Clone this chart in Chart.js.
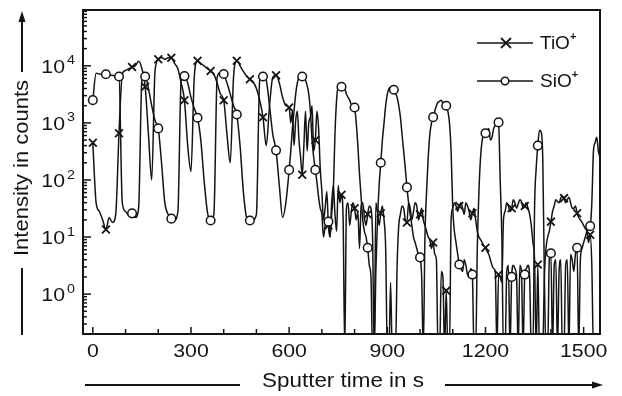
<!DOCTYPE html>
<html>
<head>
<meta charset="utf-8">
<script src="https://cdn.jsdelivr.net/npm/chart.js@4.4.1/dist/chart.umd.min.js"></script>
<style>
  html, body { margin: 0; padding: 0; background: #fff; }
  #wrap { width: 622px; height: 396px; }
</style>
</head>
<body>
<div id="wrap"><canvas id="chart" width="622" height="396"></canvas></div>
<script>
// sputter time (s): every 10 s up to 590 s, every 5 s after that (noisier part)
const times = [
  0, 10, 20, 30, 40, 50, 60, 70, 80, 90, 100, 110, 120, 130, 140, 150,
  160, 170, 180, 190, 200, 210, 220, 230, 240, 250, 260, 270, 280, 290, 300, 310,
  320, 330, 340, 350, 360, 370, 380, 390, 400, 410, 420, 430, 440, 450, 460, 470,
  480, 490, 500, 510, 520, 530, 540, 550, 560, 570, 580, 590,
  600, 605, 610, 615, 620, 625, 630, 635, 640, 645, 650, 655, 660, 665, 670, 675, 680, 685, 690, 695,
  700, 705, 710, 715, 720, 725, 730, 735, 740, 745, 750, 755, 760, 765, 770, 775, 780, 785, 790, 795,
  800, 805, 810, 815, 820, 825, 830, 835, 840, 845, 850, 855, 860, 865, 870, 875, 880, 885, 890, 895,
  900, 905, 910, 915, 920, 925, 930, 935, 940, 945, 950, 955, 960, 965, 970, 975, 980, 985, 990, 995,
  1000, 1005, 1010, 1015, 1020, 1025, 1030, 1035, 1040, 1045, 1050, 1055, 1060, 1065, 1070, 1075, 1080, 1085, 1090, 1095,
  1100, 1105, 1110, 1115, 1120, 1125, 1130, 1135, 1140, 1145, 1150, 1155, 1160, 1165, 1170, 1175, 1180, 1185, 1190, 1195,
  1200, 1205, 1210, 1215, 1220, 1225, 1230, 1235, 1240, 1245, 1250, 1255, 1260, 1265, 1270, 1275, 1280, 1285, 1290, 1295,
  1300, 1305, 1310, 1315, 1320, 1325, 1330, 1335, 1340, 1345, 1350, 1355, 1360, 1365, 1370, 1375, 1380, 1385, 1390, 1395,
  1400, 1405, 1410, 1415, 1420, 1425, 1430, 1435, 1440, 1445, 1450, 1455, 1460, 1465, 1470, 1475, 1480, 1485, 1490, 1495,
  1500, 1505, 1510, 1515, 1520, 1525, 1530, 1535, 1540, 1545, 1550
];

// TiO+ intensity (counts)
const tioCounts = [
  450, 40, 28, 20, 13.5, 22, 18, 25, 660, 7100, 8300, 8900, 9500, 10000, 12000, 8900,
  4300, 630, 100, 8000, 13000, 14000, 13000, 13800, 13800, 11000, 8900, 5000, 2500, 400, 140, 6300,
  12300, 11000, 10000, 8900, 8100, 7100, 5000, 3200, 2500, 630, 200, 6300, 12300, 10000, 8000, 6600,
  5800, 5200, 4000, 2500, 1260, 400, 2000, 6300, 6800, 5000, 2800, 2000,
  1860, 1000, 1600, 400, 1100, 1600, 500, 250, 123, 400, 1600, 320, 1000, 1260, 2000, 320, 500, 1600, 800, 160,
  63, 20, 32, 63, 16, 10, 40, 80, 25, 12.6, 80, 40, 55, 20, 0.1, 32, 40, 16, 28, 40,
  32, 20, 28, 6.3, 35, 40, 22, 16, 25, 35, 32, 10, 0.1, 40, 28, 16, 26, 35, 20, 6.3,
  0.1, 0.1, 1.6, 0.1, 0.1, 0.1, 3.2, 16, 25, 35, 32, 20, 18, 40, 32, 20, 28, 40, 35, 20,
  25, 32, 20, 16, 12.6, 10, 9, 6.3, 8, 5, 4, 0.1, 0.1, 2.5, 2, 0.1, 1.15, 0.1, 0.1, 20,
  32, 40, 35, 28, 35, 40, 32, 25, 40, 35, 28, 20, 26, 32, 20, 12.6, 10, 9, 8, 7,
  6.5, 5.6, 5, 4, 3.2, 2.8, 2.5, 0.1, 2.2, 2, 1.6, 20, 28, 40, 35, 28, 32, 45, 40, 32,
  38, 45, 42, 32, 35, 40, 32, 25, 16, 8, 4, 0.1, 3.3, 0.1, 0.1, 0.1, 2, 6.3, 10, 12.6,
  18.6, 28, 35, 45, 42, 40, 48, 52, 48, 40, 45, 50, 40, 32, 32, 35, 26, 22, 20, 18,
  16, 14, 12.6, 8, 11, 3.2, 0.1, 0.1, 0.1, 0.1, 0.1
];

// SiO+ intensity (counts)
const sioCounts = [
  2500, 7400, 7200, 7100, 7100, 6900, 6800, 6600, 6500, 40, 28, 24, 26, 22, 32, 5600,
  6500, 4000, 2000, 1100, 800, 200, 40, 25, 21, 20, 28, 5600, 6600, 5000, 2800, 1800,
  1230, 500, 100, 28, 19.5, 25, 6300, 7600, 7200, 5000, 3200, 2000, 1400, 400, 63, 22,
  19.5, 20, 25, 5600, 6500, 5600, 2000, 630, 330, 80, 22, 40,
  150, 320, 800, 1600, 3200, 5000, 6300, 6600, 6500, 6300, 5600, 4500, 3200, 1600, 500, 250, 150, 90, 50, 32,
  25, 10, 16, 22, 18.6, 10, 25, 63, 630, 2500, 4500, 4900, 4300, 4200, 4000, 3200, 2800, 2500, 2100, 2000,
  1860, 1000, 400, 126, 50, 20, 12.6, 10, 6.5, 3.2, 2, 0.1, 0.1, 2.5, 20, 80, 200, 500, 1000, 2000,
  3200, 4000, 4200, 4200, 3800, 3300, 2800, 2000, 1260, 630, 320, 160, 74, 40, 25, 16, 10, 8, 6.3, 5,
  4.4, 2, 0.1, 10, 63, 250, 630, 1000, 1260, 1600, 2000, 2300, 2400, 2500, 2200, 2000, 2000, 1600, 1000, 320,
  32, 12.6, 8, 5, 3.3, 2.8, 2.5, 4, 3.2, 2.2, 2, 2.8, 2.2, 0.1, 0.1, 6.3, 63, 250, 500, 630,
  660, 700, 800, 500, 560, 800, 900, 1100, 1020, 100, 10, 0.1, 0.1, 2.5, 3.2, 0.1, 2, 3.2, 2.8, 2,
  0.1, 3.2, 2.5, 0.1, 2.2, 2.8, 3.2, 2, 0.1, 0.1, 32, 160, 400, 740, 700, 250, 2, 0.1, 0.1, 4,
  5.2, 0.1, 3.2, 4, 0.1, 2.5, 4, 0.1, 0.1, 3.2, 4, 0.1, 5, 4, 2.5, 5, 6.5, 0.1, 4, 6.3,
  8, 10, 12.6, 14, 15.5, 40, 320, 450, 560, 320, 250
];

const seriesNames = ['TiO', 'SiO'];
const xTickLabels = [0, 300, 600, 900, 1200, 1500];
const yTickExponents = [0, 1, 2, 3, 4];
const markerStep = 40; // a symbol every 40 s

const INK = '#141414';
const FONT = '"Liberation Sans", Arial, Helvetica, sans-serif';

function stretchedText(ctx, str, x, y, sx, align) {
  ctx.save();
  ctx.translate(x, y);
  ctx.scale(sx, 1);
  ctx.textAlign = align;
  ctx.fillText(str, 0, 0);
  ctx.restore();
}

function seg(ctx, x1, y1, x2, y2) {
  ctx.beginPath();
  ctx.moveTo(x1, y1);
  ctx.lineTo(x2, y2);
  ctx.stroke();
}

function arrowHead(ctx, tipX, tipY, dir) {
  ctx.beginPath();
  if (dir === 'up') {
    ctx.moveTo(tipX, tipY);
    ctx.lineTo(tipX - 3.5, tipY + 11);
    ctx.lineTo(tipX + 3.5, tipY + 11);
  } else {
    ctx.moveTo(tipX, tipY);
    ctx.lineTo(tipX - 11, tipY - 3.5);
    ctx.lineTo(tipX - 11, tipY + 3.5);
  }
  ctx.closePath();
  ctx.fill();
}

const framePlugin = {
  id: 'frame',
  afterDatasetsDraw(chart) {
    const { ctx, chartArea: a, scales: { x, y } } = chart;
    ctx.save();
    ctx.strokeStyle = INK;
    ctx.fillStyle = INK;

    // plot box
    ctx.lineWidth = 2;
    ctx.strokeRect(a.left, a.top, a.right - a.left, a.bottom - a.top);

    // bottom ticks, pointing inwards
    ctx.lineWidth = 1.5;
    for (let t = 0; t <= x.max; t += 100) {
      const px = x.getPixelForValue(t);
      seg(ctx, px, a.bottom, px, a.bottom - (t % 300 === 0 ? 7 : 5));
    }

    // left ticks: decades long, 2..9 short
    for (let e = -1; e <= 5; e++) {
      for (let m = 1; m <= 9; m++) {
        const v = m * Math.pow(10, e);
        if (v < y.min || v > y.max) continue;
        const py = y.getPixelForValue(v);
        seg(ctx, a.left, py, a.left + (m === 1 ? 8 : 4), py);
      }
    }

    // x tick labels
    ctx.textBaseline = 'middle';
    ctx.font = '19px ' + FONT;
    xTickLabels.forEach(t => {
      stretchedText(ctx, String(t), x.getPixelForValue(t), 352, 1.12, 'center');
    });

    // y tick labels 10^n
    yTickExponents.forEach(n => {
      const py = y.getPixelForValue(Math.pow(10, n));
      ctx.font = '19px ' + FONT;
      stretchedText(ctx, '10', 65, py + 2, 1.12, 'right');
      ctx.font = '13px ' + FONT;
      stretchedText(ctx, String(n), 67, py - 5, 1.1, 'left');
    });

    // y axis title with arrow
    ctx.lineWidth = 2;
    seg(ctx, 22, 335, 22, 268);
    seg(ctx, 22, 72, 22, 20);
    arrowHead(ctx, 22, 11, 'up');
    ctx.save();
    ctx.translate(22, 168);
    ctx.rotate(-Math.PI / 2);
    ctx.font = '20px ' + FONT;
    ctx.textBaseline = 'middle';
    stretchedText(ctx, 'Intensity in counts', 0, 0, 1.1, 'center');
    ctx.restore();

    // x axis title with arrow
    seg(ctx, 85, 385, 240, 385);
    seg(ctx, 445, 385, 592, 385);
    arrowHead(ctx, 603, 385, 'right');
    ctx.font = '20px ' + FONT;
    ctx.textBaseline = 'middle';
    stretchedText(ctx, 'Sputter time in s', 343, 381, 1.12, 'center');

    // legend
    const rows = [
      { name: seriesNames[0], y: 43, style: 'cross' },
      { name: seriesNames[1], y: 81, style: 'circle' }
    ];
    rows.forEach(r => {
      ctx.lineWidth = 1.5;
      seg(ctx, 477, r.y, 533, r.y);
      if (r.style === 'cross') {
        ctx.lineWidth = 1.8;
        seg(ctx, 501, r.y - 5, 511, r.y + 5);
        seg(ctx, 501, r.y + 5, 511, r.y - 5);
      } else {
        ctx.beginPath();
        ctx.arc(505, r.y, 3.8, 0, Math.PI * 2);
        ctx.fillStyle = '#fff';
        ctx.fill();
        ctx.lineWidth = 1.5;
        ctx.stroke();
        ctx.fillStyle = INK;
      }
      ctx.font = '19px ' + FONT;
      ctx.textAlign = 'left';
      ctx.fillText(r.name, 540, r.y + 1);
      const w = ctx.measureText(r.name).width;
      ctx.font = 'bold 11px ' + FONT;
      ctx.fillText('+', 540 + w, r.y - 6);
    });

    ctx.restore();
  }
};

const markerRadius = (size) => (c) => (c.raw && c.raw.x % markerStep === 0 ? size : 0);

new Chart(document.getElementById('chart'), {
  type: 'line',
  data: {
    datasets: [
      {
        label: seriesNames[1] + '+',
        data: times.map((t, i) => ({ x: t, y: sioCounts[i] })),
        borderColor: INK,
        borderWidth: 1.5,
        pointStyle: 'circle',
        pointRadius: markerRadius(4.3),
        pointBackgroundColor: '#fff',
        pointBorderColor: INK,
        pointBorderWidth: 1.5,
        cubicInterpolationMode: 'monotone'
      },
      {
        label: seriesNames[0] + '+',
        data: times.map((t, i) => ({ x: t, y: tioCounts[i] })),
        borderColor: INK,
        borderWidth: 1.5,
        pointStyle: 'crossRot',
        pointRadius: markerRadius(5.5),
        pointBorderColor: INK,
        pointBorderWidth: 1.8,
        cubicInterpolationMode: 'monotone'
      }
    ]
  },
  options: {
    responsive: false,
    animation: false,
    events: [],
    layout: { padding: { left: 83, right: 22, top: 10, bottom: 62 } },
    plugins: { legend: { display: false }, tooltip: { enabled: false } },
    scales: {
      x: { type: 'linear', min: -30, max: 1550, display: false },
      y: { type: 'logarithmic', min: 0.2, max: 95000, display: false }
    }
  },
  plugins: [framePlugin]
});
</script>
</body>
</html>
